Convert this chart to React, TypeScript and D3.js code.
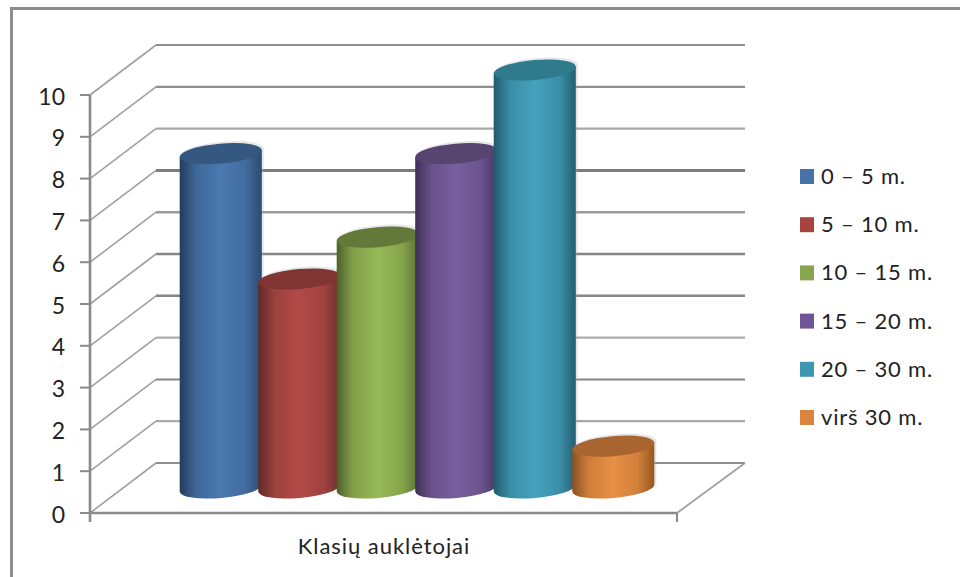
import React from "react";
import * as d3 from "d3";

// Teachers by years of service, one cylinder per group
const seriesNames = ["0 – 5 m.", "5 – 10 m.", "10 – 15 m.", "15 – 20 m.", "20 – 30 m.", "virš 30 m."];
const seriesValues = [8, 5, 6, 8, 10, 1];
const categoryLabel = "Klasių auklėtojai";
const tickValues = [0, 1, 2, 3, 4, 5, 6, 7, 8, 9, 10];

// side shading, highlight, top cap and legend swatch for each group
const palettes = [
  { edgeL: "#223c5c", mid: "#4a79b1", edgeR: "#2b4a70", cap: "#34587f", swatch: "#4672a8" },
  { edgeL: "#5f2927", mid: "#b24a47", edgeR: "#6d2f2d", cap: "#803533", swatch: "#a9433f" },
  { edgeL: "#4d6029", mid: "#97b957", edgeR: "#5a7031", cap: "#63793a", swatch: "#89a64e" },
  { edgeL: "#3e2f57", mid: "#7a5e9e", edgeR: "#483765", cap: "#58456f", swatch: "#6f5596" },
  { edgeL: "#1f5a6c", mid: "#44a2bd", edgeR: "#235f72", cap: "#307a8e", swatch: "#3f96b0" },
  { edgeL: "#8a5222", mid: "#e98f45", edgeR: "#94591f", cap: "#a9652f", swatch: "#db843d" },
];

const FONT = "Lato, 'Open Sans', sans-serif";
const AXIS = "#8a8a8a";
const depthX = 66;
const depthY = -50;

const y = d3.scaleLinear().domain([0, 10]).range([513, 95]);
const x = d3.scaleBand<string>().domain(seriesNames).range([181.5, 652.5]).padding(0);

const gridWidths = [2, 2.2, 2, 2.2, 2.6, 2.6, 2.6, 3, 2.2, 2.2, 2.2];
const gridColors = ["#8f8f8f", "#a8a8a8", "#858585", "#adadad", "#858585", "#858585", "#9a9a9a", "#7c7c7c", "#a8a8a8", "#8f8f8f", "#8f8f8f"];

const rx = 41.2;
const ry = 10;
const tilt = -5;
const rad = (tilt * Math.PI) / 180;

function Cylinder({ name, value, i }: { name: string; value: number; i: number }) {
  const cx = (x(name) as number) + x.bandwidth() / 2;
  const topY = y(value) - 25;
  const baseY = y(0) - 25;
  const dx = rx * Math.cos(rad);
  const dy = rx * Math.sin(rad);
  const body = `M${cx - dx},${topY - dy} L${cx + dx},${topY + dy} L${cx + dx},${baseY + dy} A${rx},${ry} ${tilt} 0 1 ${cx - dx},${baseY - dy} Z`;
  return (
    <g>
      {/* faint cast shadow behind the top and right side */}
      <g transform="translate(2,-2)" opacity={0.3}>
        <path d={body} fill="#a9b0bb" />
        <ellipse cx={cx} cy={topY} rx={rx} ry={ry} transform={`rotate(${tilt} ${cx} ${topY})`} fill="#a9b0bb" />
      </g>
      <path d={body} fill={`url(#cyl-${i})`} />
      <ellipse cx={cx} cy={topY} rx={rx} ry={ry} transform={`rotate(${tilt} ${cx} ${topY})`} fill={palettes[i].cap} />
    </g>
  );
}

export default function App() {
  return (
    <svg
      width={960}
      height={577}
      viewBox="0 0 960 577"
      style={{ position: "absolute", left: 0, top: 0, background: "#fff" }}
      fontFamily={FONT}
    >
      <defs>
        {palettes.map((p, i) => (
          <linearGradient key={i} id={`cyl-${i}`} x1="0" x2="1" y1="0" y2="0">
            <stop offset="0" stopColor={p.edgeL} />
            <stop offset="0.2" stopColor={d3.interpolateRgb(p.edgeL, p.mid)(0.72)} />
            <stop offset="0.5" stopColor={p.mid} />
            <stop offset="0.8" stopColor={d3.interpolateRgb(p.edgeR, p.mid)(0.72)} />
            <stop offset="1" stopColor={p.edgeR} />
          </linearGradient>
        ))}
      </defs>

      {/* outer frame: only the top and left edges are visible */}
      <path d="M960,8.5 H11.5 V577" fill="none" stroke="#8c8c8c" strokeWidth={3} />

      {/* back wall gridlines and the side wall diagonals */}
      {tickValues.map((t, i) => (
        <g key={t}>
          <line x1={156} x2={745} y1={y(t) + depthY} y2={y(t) + depthY} stroke={gridColors[i]} strokeWidth={gridWidths[i]} />
          <line x1={90} y1={y(t)} x2={90 + depthX} y2={y(t) + depthY} stroke="#a0a0a0" strokeWidth={1.6} />
        </g>
      ))}
      <line x1={677} y1={y(0)} x2={745} y2={y(0) + depthY} stroke="#a0a0a0" strokeWidth={1.8} />

      {/* axes */}
      <line x1={90} x2={90} y1={y(10)} y2={y(0) + 9} stroke={AXIS} strokeWidth={2.6} />
      <line x1={90} x2={677} y1={y(0)} y2={y(0)} stroke={AXIS} strokeWidth={2.4} />
      <line x1={677} x2={677} y1={y(0)} y2={y(0) + 9} stroke={AXIS} strokeWidth={2} />
      {tickValues.map((t) => (
        <g key={t}>
          <line x1={80} x2={90} y1={y(t)} y2={y(t)} stroke={AXIS} strokeWidth={2} />
          <text x={65} y={y(t) + 9.5} textAnchor="end" fontSize={23} fill="#222">
            {t}
          </text>
        </g>
      ))}

      {seriesNames.map((name, i) => (
        <Cylinder key={name} name={name} value={seriesValues[i]} i={i} />
      ))}

      <text x={384} y={554} textAnchor="middle" fontSize={22} letterSpacing={0.95} fill="#222">
        {categoryLabel}
      </text>

      {/* legend */}
      {seriesNames.map((name, i) => (
        <g key={name}>
          <rect x={800} y={169 + i * 48.2} width={14} height={15} fill={palettes[i].swatch} />
          <text x={821} y={184 + i * 48.2} fontSize={22} letterSpacing={0.8} fill="#222" style={{ whiteSpace: "pre" }}>
            {name}
          </text>
        </g>
      ))}
    </svg>
  );
}
